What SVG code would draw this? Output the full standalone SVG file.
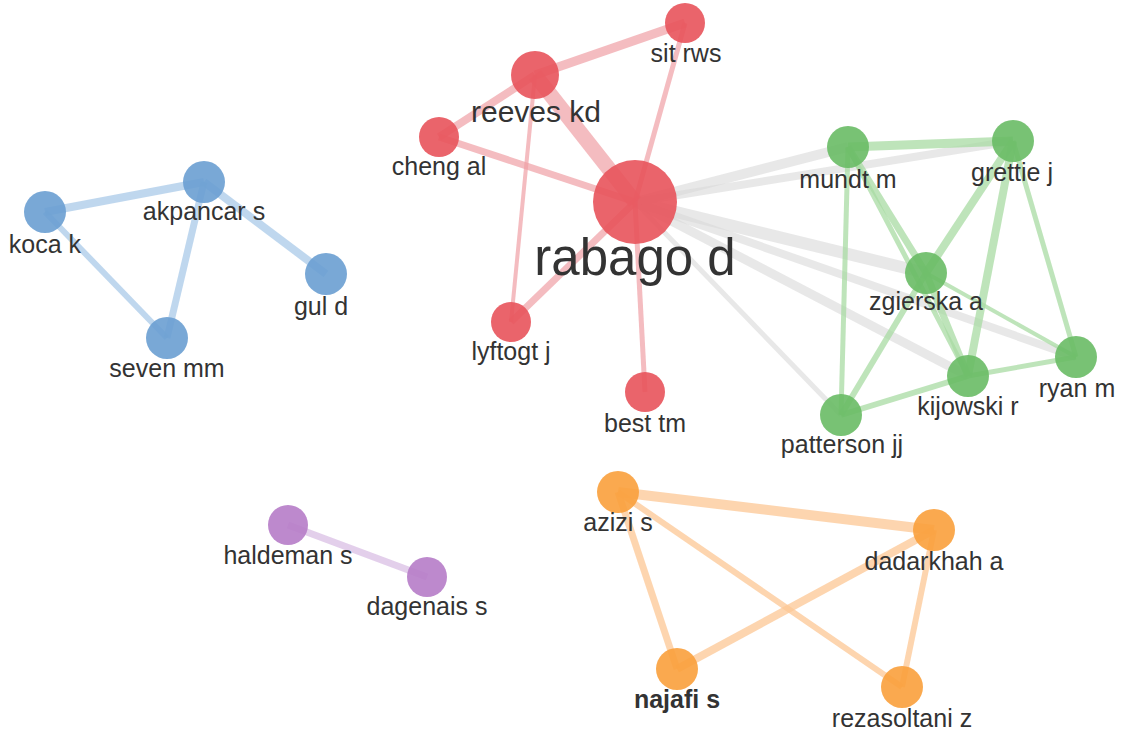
<svg xmlns="http://www.w3.org/2000/svg" width="1123" height="738" viewBox="0 0 1123 738">
<style>
  .lbl { font-family: "Liberation Sans", Arial, sans-serif; font-size: 25px; fill: #333333; text-anchor: middle; }
  .red { fill: #e8535b; fill-opacity: 0.9; }
  .green { fill: #69bb65; fill-opacity: 0.9; }
  .blue { fill: #6a9fd2; fill-opacity: 0.9; }
  .orange { fill: #f9a03c; fill-opacity: 0.9; }
  .purple { fill: #b67cc8; fill-opacity: 0.9; }
  .er { stroke: #f0a0a5; stroke-opacity: 0.7; fill: none; }
  .eg { stroke: #a8dba3; stroke-opacity: 0.75; fill: none; }
  .ex { stroke: #d8d8d8; stroke-opacity: 0.6; fill: none; }
  .eb { stroke: #a9c9e8; stroke-opacity: 0.75; fill: none; }
  .eo { stroke: #fcc794; stroke-opacity: 0.75; fill: none; }
  .ep { stroke: #dcc3e6; stroke-opacity: 0.8; fill: none; }
</style>
<rect width="1123" height="738" fill="#ffffff"/>
<g id="edges">
  <line class="ex" x1="635" y1="202" x2="848" y2="147" stroke-width="10"/>
  <line class="ex" x1="635" y1="202" x2="1013" y2="141" stroke-width="8"/>
  <line class="ex" x1="635" y1="202" x2="926" y2="273" stroke-width="12"/>
  <line class="ex" x1="635" y1="202" x2="1076" y2="357" stroke-width="8"/>
  <line class="ex" x1="635" y1="202" x2="968" y2="376" stroke-width="9"/>
  <line class="ex" x1="635" y1="202" x2="841" y2="415" stroke-width="5"/>
  <line class="er" x1="535" y1="75" x2="685" y2="23" stroke-width="9"/>
  <line class="er" x1="535" y1="75" x2="439" y2="137" stroke-width="8"/>
  <line class="er" x1="535" y1="75" x2="635" y2="202" stroke-width="15"/>
  <line class="er" x1="535" y1="75" x2="511" y2="322" stroke-width="4"/>
  <line class="er" x1="685" y1="23" x2="635" y2="202" stroke-width="5"/>
  <line class="er" x1="439" y1="137" x2="635" y2="202" stroke-width="7"/>
  <line class="er" x1="511" y1="322" x2="635" y2="202" stroke-width="7"/>
  <line class="er" x1="645" y1="392" x2="635" y2="202" stroke-width="5"/>
  <line class="eg" x1="848" y1="147" x2="1013" y2="141" stroke-width="9"/>
  <line class="eg" x1="848" y1="147" x2="926" y2="273" stroke-width="7"/>
  <line class="eg" x1="848" y1="147" x2="968" y2="376" stroke-width="5"/>
  <line class="eg" x1="848" y1="147" x2="841" y2="415" stroke-width="5"/>
  <line class="eg" x1="1013" y1="141" x2="926" y2="273" stroke-width="8"/>
  <line class="eg" x1="1013" y1="141" x2="968" y2="376" stroke-width="8"/>
  <line class="eg" x1="1013" y1="141" x2="1076" y2="357" stroke-width="5"/>
  <line class="eg" x1="926" y1="273" x2="968" y2="376" stroke-width="7"/>
  <line class="eg" x1="926" y1="273" x2="1076" y2="357" stroke-width="4"/>
  <line class="eg" x1="926" y1="273" x2="841" y2="415" stroke-width="6"/>
  <line class="eg" x1="968" y1="376" x2="1076" y2="357" stroke-width="5"/>
  <line class="eg" x1="968" y1="376" x2="841" y2="415" stroke-width="6"/>
  <line class="eb" x1="45" y1="212" x2="204" y2="182" stroke-width="8"/>
  <line class="eb" x1="204" y1="182" x2="326" y2="274" stroke-width="8"/>
  <line class="eb" x1="204" y1="182" x2="167" y2="338" stroke-width="7"/>
  <line class="eb" x1="45" y1="212" x2="167" y2="338" stroke-width="6"/>
  <line class="ep" x1="288" y1="525" x2="427" y2="577" stroke-width="7"/>
  <line class="eo" x1="618" y1="492" x2="934" y2="530" stroke-width="10"/>
  <line class="eo" x1="618" y1="492" x2="677" y2="669" stroke-width="7"/>
  <line class="eo" x1="618" y1="492" x2="902" y2="687" stroke-width="6"/>
  <line class="eo" x1="934" y1="530" x2="677" y2="669" stroke-width="8"/>
  <line class="eo" x1="934" y1="530" x2="902" y2="687" stroke-width="6"/>
</g>
<g id="node-rabago-d"><circle class="red" cx="635" cy="202" r="42"/><text class="lbl" x="635" y="275" style="font-size:51px">rabago d</text></g>
<g id="node-reeves-kd"><circle class="red" cx="535" cy="75" r="24"/><text class="lbl" x="536" y="122" style="font-size:30px">reeves kd</text></g>
<g id="node-sit-rws"><circle class="red" cx="685" cy="23" r="20"/><text class="lbl" x="686" y="62">sit rws</text></g>
<g id="node-cheng-al"><circle class="red" cx="439" cy="137" r="20"/><text class="lbl" x="439" y="175">cheng al</text></g>
<g id="node-lyftogt-j"><circle class="red" cx="511" cy="322" r="20"/><text class="lbl" x="511" y="360">lyftogt j</text></g>
<g id="node-best-tm"><circle class="red" cx="645" cy="392" r="20"/><text class="lbl" x="645" y="432">best tm</text></g>
<g id="node-mundt-m"><circle class="green" cx="848" cy="147" r="21"/><text class="lbl" x="848" y="188">mundt m</text></g>
<g id="node-grettie-j"><circle class="green" cx="1013" cy="141" r="21"/><text class="lbl" x="1012" y="181">grettie j</text></g>
<g id="node-zgierska-a"><circle class="green" cx="926" cy="273" r="21"/><text class="lbl" x="926" y="310">zgierska a</text></g>
<g id="node-ryan-m"><circle class="green" cx="1076" cy="357" r="21"/><text class="lbl" x="1077" y="397">ryan m</text></g>
<g id="node-kijowski-r"><circle class="green" cx="968" cy="376" r="21"/><text class="lbl" x="968" y="415">kijowski r</text></g>
<g id="node-patterson-jj"><circle class="green" cx="841" cy="415" r="21"/><text class="lbl" x="842" y="453">patterson jj</text></g>
<g id="node-koca-k"><circle class="blue" cx="45" cy="212" r="21"/><text class="lbl" x="45" y="253">koca k</text></g>
<g id="node-akpancar-s"><circle class="blue" cx="204" cy="182" r="21"/><text class="lbl" x="204" y="220">akpancar s</text></g>
<g id="node-gul-d"><circle class="blue" cx="326" cy="274" r="21"/><text class="lbl" x="321" y="315">gul d</text></g>
<g id="node-seven-mm"><circle class="blue" cx="167" cy="338" r="21"/><text class="lbl" x="167" y="377">seven mm</text></g>
<g id="node-haldeman-s"><circle class="purple" cx="288" cy="525" r="20"/><text class="lbl" x="288" y="564">haldeman s</text></g>
<g id="node-dagenais-s"><circle class="purple" cx="427" cy="577" r="20"/><text class="lbl" x="427" y="615">dagenais s</text></g>
<g id="node-azizi-s"><circle class="orange" cx="618" cy="492" r="21"/><text class="lbl" x="618" y="531">azizi s</text></g>
<g id="node-dadarkhah-a"><circle class="orange" cx="934" cy="530" r="21"/><text class="lbl" x="934" y="570">dadarkhah a</text></g>
<g id="node-najafi-s"><circle class="orange" cx="677" cy="669" r="21"/><text class="lbl" x="677" y="708" style="font-weight:bold">najafi s</text></g>
<g id="node-rezasoltani-z"><circle class="orange" cx="902" cy="687" r="21"/><text class="lbl" x="902" y="727">rezasoltani z</text></g>
</svg>
